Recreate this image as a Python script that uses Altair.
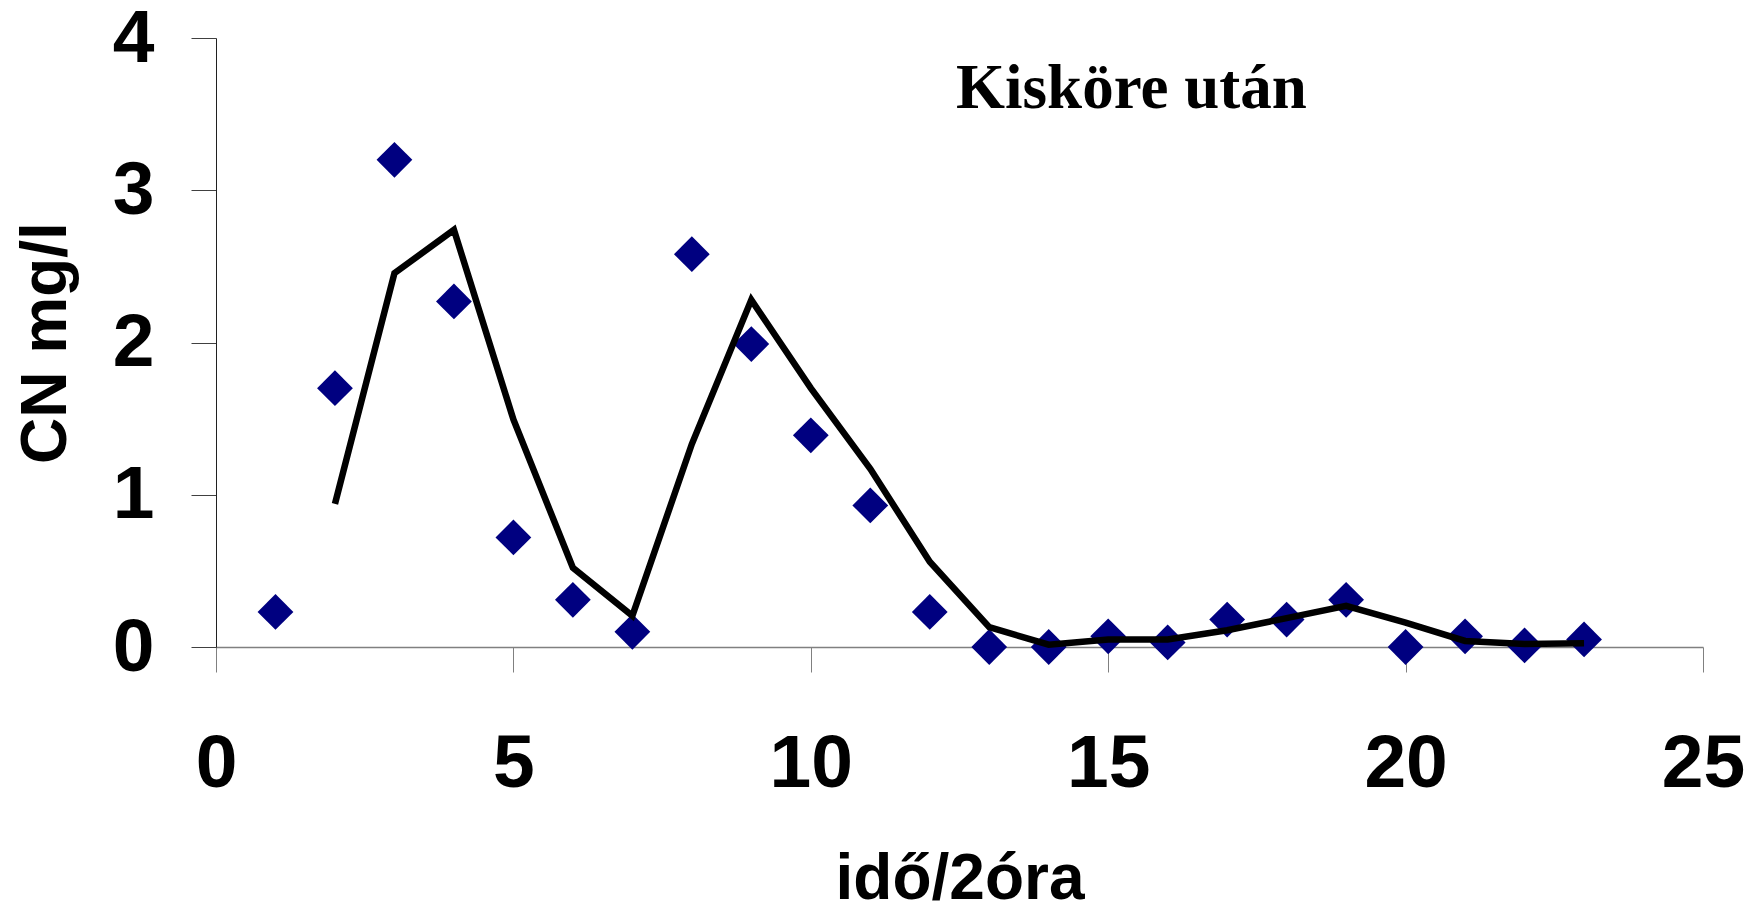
import altair as alt
import pandas as pd

# measured points (idő/2óra vs CN mg/l)
pt_x = list(range(1, 24))
pt_y = [0.23, 1.70, 3.20, 2.27, 0.72, 0.31, 0.10, 2.58, 1.99, 1.39, 0.93, 0.23,
        0.0, 0.0, 0.07, 0.03, 0.18, 0.18, 0.31, 0.0, 0.07, 0.01, 0.05]

# moving-average trend line
ln_x = list(range(2, 24))
ln_y = [0.94, 2.455, 2.74, 1.495, 0.52, 0.205, 1.333, 2.28, 1.70, 1.17, 0.56,
        0.13, 0.015, 0.05, 0.05, 0.11, 0.19, 0.27, 0.16, 0.04, 0.02, 0.025]

title_text = ["Kisköre után"]
title_x = [15.39]
title_y = [3.54]

x_ticks = [0, 5, 10, 15, 20, 25]
y_ticks = [0, 1, 2, 3, 4]

pts = pd.DataFrame({"x": pt_x, "y": pt_y})
lns = pd.DataFrame({"x": ln_x, "y": ln_y})
ann = pd.DataFrame({"t": title_text, "x": title_x, "y": title_y})

FONT = "Liberation Sans"

xs = alt.Scale(domain=[0, 25], nice=False, zero=False)
ys = alt.Scale(domain=[0, 4], nice=False)

x_axis = alt.Axis(
    title="idő/2óra", values=x_ticks, grid=False, format="d",
    labelFont=FONT, labelFontSize=75, labelFontWeight="bold", labelColor="black",
    labelPadding=55, labelFlush=False, labelOverlap=False,
    tickSize=25, tickColor="#808080", tickWidth=1,
    domainColor="#808080", domainWidth=1.5,
    titleFont=FONT, titleFontSize=64, titleFontWeight="bold", titleColor="black",
    titleBaseline="alphabetic", titleY=251, titleX=743.5, titleAlign="center",
)
y_axis = alt.Axis(
    title="CN mg/l", values=y_ticks, grid=False, format="d",
    labelFont=FONT, labelFontSize=75, labelFontWeight="bold", labelColor="black",
    labelPadding=37,
    tickSize=25, tickColor="#404040", tickWidth=1,
    domainColor="#202020", domainWidth=1,
    titleFont=FONT, titleFontSize=64, titleFontWeight="bold", titleColor="black",
    titleBaseline="alphabetic", titleAngle=270, titleX=-151, titleY=304.5,
    titleAlign="center",
)

points = alt.Chart(pts).mark_point(
    shape="diamond", filled=True, color="#000080", size=1280, opacity=1
).encode(
    x=alt.X("x:Q", scale=xs, axis=x_axis),
    y=alt.Y("y:Q", scale=ys, axis=y_axis),
)

line = alt.Chart(lns).mark_line(color="black", strokeWidth=6.5).encode(
    x=alt.X("x:Q", scale=xs),
    y=alt.Y("y:Q", scale=ys),
)

label = alt.Chart(ann).mark_text(
    font="Liberation Serif", fontSize=63, fontWeight="bold", color="black",
    align="center", baseline="alphabetic"
).encode(
    x=alt.X("x:Q", scale=xs),
    y=alt.Y("y:Q", scale=ys),
    text="t:N",
)

chart = alt.layer(points, line, label).properties(
    width=1487, height=609,
    autosize=alt.AutoSizeParams(type="none"),
    padding={"left": 216, "top": 38, "right": 44, "bottom": 261},
    background="white",
).configure_view(stroke=None)

chart.save("out.html", embed_options={"renderer": "svg", "actions": False})
